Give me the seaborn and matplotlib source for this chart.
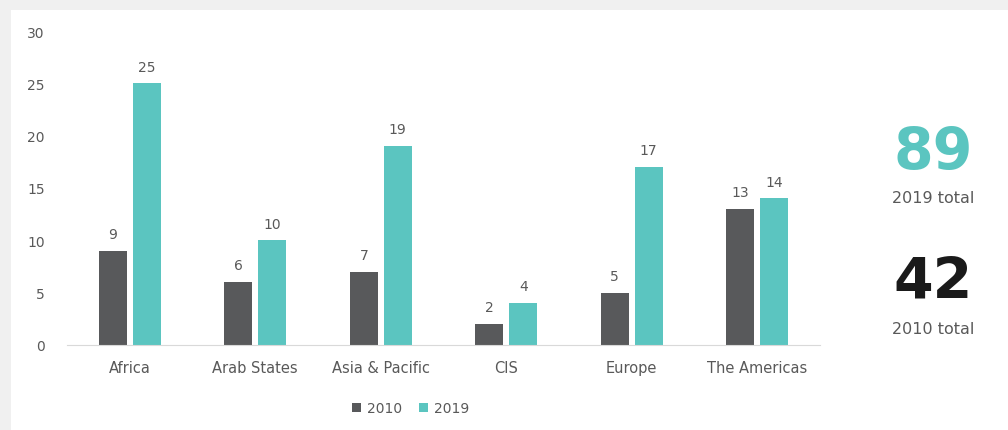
import matplotlib
matplotlib.use("Agg")
import matplotlib.pyplot as plt
from matplotlib.patches import Rectangle
import seaborn as sns
import pandas as pd

regions = ["Africa", "Arab States", "Asia & Pacific", "CIS", "Europe", "The Americas"]
values_2010 = [9, 6, 7, 2, 5, 13]
values_2019 = [25, 10, 19, 4, 17, 14]
years = ["2010", "2019"]
colors = ["#58595b", "#5bc5c0"]
total_2019 = "89"
total_2010 = "42"


def main():
    df = pd.DataFrame({
        "region": regions * 2,
        "year": [years[0]] * len(regions) + [years[1]] * len(regions),
        "count": values_2010 + values_2019,
    })

    sns.set_style("white")
    plt.rcParams['font.family'] = ['DejaVu Sans']

    fig = plt.figure(figsize=(10.08, 4.31), dpi=100)
    fig.patch.set_facecolor("#f0f0f0")
    fig.patches.append(Rectangle((11 / 1008, 0), 1, 420 / 431, transform=fig.transFigure,
                                 facecolor="white", edgecolor="none", zorder=-10))

    ax = fig.add_axes([67 / 1008, 1 - 346 / 431, 753 / 1008, 314 / 431])
    ax.set_facecolor("none")
    sns.barplot(data=df, x="region", y="count", hue="year", palette=colors,
                width=0.54, gap=0.18, linewidth=0, ax=ax, saturation=1)

    for cont in ax.containers:
        ax.bar_label(cont, padding=7, fontsize=10, color="#595959")

    ax.set_ylim(0, 30)
    ax.set_xlim(-0.5, 5.5)
    ax.set_yticks(range(0, 31, 5))
    ax.set_xlabel("")
    ax.set_ylabel("")
    for s in ["top", "right", "left"]:
        ax.spines[s].set_visible(False)
    ax.spines["bottom"].set_color("#d9d9d9")
    ax.tick_params(axis="y", length=0, pad=16, labelsize=10, labelcolor="#595959")
    ax.tick_params(axis="x", length=0, pad=11, labelsize=10.5, labelcolor="#595959")

    ax.legend(loc="upper center", bbox_to_anchor=(0.456, -0.14), ncol=2, frameon=False,
              fontsize=10, labelcolor="#595959", handlelength=0.7, handleheight=0.7,
              handletextpad=0.4, columnspacing=1.2)

    fig.text(933 / 1008, 1 - 154 / 431, total_2019, ha="center", va="center",
             fontsize=41, fontweight="bold", color="#5bc5c0")
    fig.text(933 / 1008, 1 - 199 / 431, "2019 total", ha="center", va="center",
             fontsize=11.5, color="#595959")
    fig.text(933 / 1008, 1 - 283 / 431, total_2010, ha="center", va="center",
             fontsize=41, fontweight="bold", color="#1a1a1a")
    fig.text(933 / 1008, 1 - 329 / 431, "2010 total", ha="center", va="center",
             fontsize=11.5, color="#595959")

    fig.savefig("out.png", dpi=100, facecolor=fig.get_facecolor())


if __name__ == "__main__":
    main()
